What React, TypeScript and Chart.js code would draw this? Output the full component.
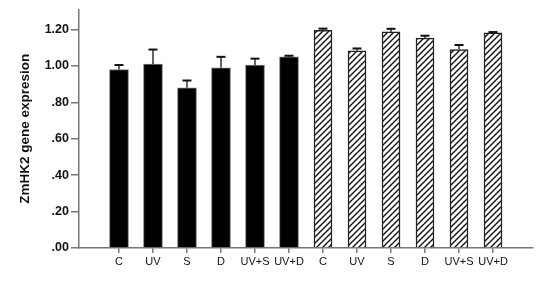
import React, { useEffect, useRef } from "react";
import { Chart, registerables } from "chart.js";

Chart.register(...registerables);

const categories = ["C", "UV", "S", "D", "UV+S", "UV+D"];
const solidValues = [0.98, 1.01, 0.88, 0.99, 1.005, 1.05];
const solidErrors = [0.025, 0.08, 0.04, 0.06, 0.035, 0.006];
const hatchedValues = [1.195, 1.083, 1.187, 1.153, 1.09, 1.182];
const hatchedErrors = [0.01, 0.013, 0.017, 0.013, 0.025, 0.004];
const yTicks = [0, 0.2, 0.4, 0.6, 0.8, 1.0, 1.2];

const allLabels = [...categories, ...categories];

function makeHatch(): CanvasPattern | string {
  const c = document.createElement("canvas");
  const s = 6;
  c.width = s;
  c.height = s;
  const ctx = c.getContext("2d");
  if (!ctx) return "#fff";
  ctx.fillStyle = "#fff";
  ctx.fillRect(0, 0, s, s);
  ctx.strokeStyle = "#111";
  ctx.lineWidth = 1.4;
  ctx.beginPath();
  ctx.moveTo(-1, s + 1);
  ctx.lineTo(s + 1, -1);
  ctx.moveTo(-1, 1);
  ctx.lineTo(1, -1);
  ctx.moveTo(s - 1, s + 1);
  ctx.lineTo(s + 1, s - 1);
  ctx.stroke();
  const p = ctx.createPattern(c, "repeat");
  return p || "#fff";
}

const errorPlugin = {
  id: "errorBars",
  afterDatasetsDraw(chart: any) {
    const ctx = chart.ctx;
    const yScale = chart.scales.y;
    const errs = [solidErrors, hatchedErrors];
    chart.data.datasets.forEach((ds: any, di: number) => {
      const meta = chart.getDatasetMeta(di);
      meta.data.forEach((el: any, i: number) => {
        const v = ds.data[i].y;
        const e = errs[di][i];
        const x = el.x;
        const yTop = yScale.getPixelForValue(v);
        const yCap = yScale.getPixelForValue(v + e);
        ctx.save();
        ctx.strokeStyle = "#333";
        ctx.lineWidth = 1.5;
        ctx.beginPath();
        ctx.moveTo(x, yTop);
        ctx.lineTo(x, yCap);
        ctx.stroke();
        ctx.strokeStyle = "#111";
        ctx.lineWidth = 2;
        ctx.beginPath();
        ctx.moveTo(x - 4.5, yCap);
        ctx.lineTo(x + 4.5, yCap);
        ctx.stroke();
        ctx.restore();
      });
    });
  },
};

export default function App() {
  const ref = useRef<HTMLCanvasElement>(null);

  useEffect(() => {
    if (!ref.current) return;
    const hatch = makeHatch();
    const chart = new Chart(ref.current, {
      type: "bar",
      data: {
        datasets: [
          {
            data: solidValues.map((v, i) => ({ x: i, y: v })),
            backgroundColor: "#000",
            borderColor: "#777",
            borderWidth: 1,
            barThickness: 19,
            grouped: false,
          } as any,
          {
            data: hatchedValues.map((v, i) => ({ x: i + categories.length, y: v })),
            backgroundColor: hatch,
            borderColor: "#222",
            borderWidth: 1.5,
            barThickness: 18,
            grouped: false,
          } as any,
        ],
      },
      options: {
        animation: false,
        responsive: false,
        devicePixelRatio: 1,
        layout: { padding: { top: 5, right: 8, left: 0, bottom: 0 } },
        plugins: { legend: { display: false }, tooltip: { enabled: false } },
        scales: {
          x: {
            type: "linear",
            offset: false,
            min: -1.176,
            max: allLabels.length - 1 + 1.176,
            afterBuildTicks: (s: any) => {
              s.ticks = allLabels.map((_, i) => ({ value: i }));
            },
            afterFit: (s: any) => {
              s.height = 49;
            },
            ticks: {
              autoSkip: false,
              maxRotation: 0,
              padding: 2,
              color: "#111",
              font: { family: "Liberation Sans, Arial, sans-serif", size: 11 },
              callback: (v: any) => allLabels[v] ?? "",
            },
            grid: {
              display: true,
              offset: false,
              drawOnChartArea: false,
              drawTicks: true,
              tickLength: 5,
              color: "#777",
              lineWidth: 1.5,
            },
            border: { display: true, color: "#777", width: 1.5 },
          },
          y: {
            type: "linear",
            min: 0,
            max: 1.31,
            afterBuildTicks: (s: any) => {
              s.ticks = yTicks.map((v) => ({ value: v }));
            },
            afterFit: (s: any) => {
              s.width = 79;
            },
            ticks: {
              padding: 2,
              color: "#111",
              font: { family: "Liberation Sans, Arial, sans-serif", size: 12.5, weight: "bold" },
              callback: (v: any) => Number(v).toFixed(2).replace(/^0/, ""),
            },
            grid: {
              display: true,
              drawOnChartArea: false,
              drawTicks: true,
              tickLength: 8,
              color: "#777",
              lineWidth: 1.5,
            },
            border: { display: true, color: "#777", width: 1.5 },
            title: {
              display: true,
              text: "ZmHK2 gene expresion",
              color: "#111",
              font: { family: "Liberation Sans, Arial, sans-serif", size: 13.5, weight: "bold" },
              padding: { top: 17, bottom: 0 },
            },
          },
        },
      },
      plugins: [errorPlugin],
    });
    return () => chart.destroy();
  }, []);

  return (
    <div style={{ position: "absolute", left: 0, top: 0, width: 541, height: 297, background: "#fff" }}>
      <canvas ref={ref} width={541} height={297} style={{ width: 541, height: 297 }} />
    </div>
  );
}
